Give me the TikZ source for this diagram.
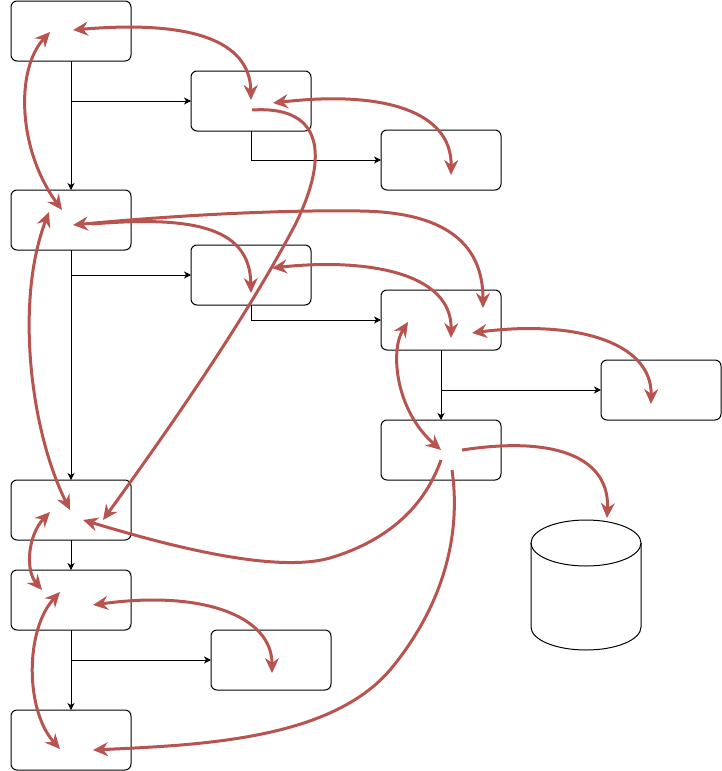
\documentclass[tikz,border=0pt]{standalone}
\usetikzlibrary{arrows.meta}
\definecolor{redline}{HTML}{B85450}
\begin{document}
\begin{tikzpicture}[x=1pt,y=-1pt,
  box/.style={draw, rounded corners=6pt, minimum width=120pt, minimum height=60pt, inner sep=0pt, outer sep=0pt, line width=1pt},
  blk/.style={line width=1pt, -{Stealth[length=7pt,width=7pt,inset=2pt]}},
  rone/.style={draw=redline, line width=3pt, -{Stealth[length=15pt,width=14pt,inset=5pt]}},
  rtwo/.style={draw=redline, line width=3pt, {Stealth[length=15pt,width=14pt,inset=5pt]}-{Stealth[length=15pt,width=14pt,inset=5pt]}},
  cylline/.style={line width=1pt}
]
\useasboundingbox (0,0) rectangle (722,771);
% boxes
\node[box] (b1) at (71,31) {};
\node[box] (b2) at (251,101) {};
\node[box] (b3) at (441,160) {};
\node[box] (b4) at (71,220) {};
\node[box] (b5) at (251,275) {};
\node[box] (b6) at (441,320) {};
\node[box] (b7) at (661,390) {};
\node[box] (b8) at (441,450) {};
\node[box] (b9) at (71,510) {};
\node[box] (b10) at (71,600) {};
\node[box] (b11) at (271,660) {};
\node[box] (b12) at (71,740) {};
% cylinder
\node[minimum width=110pt, minimum height=130pt, inner sep=0pt, outer sep=0pt] (cyl) at (586,585) {};
\draw[cylline] (531,543) -- (531,627) .. controls (531,639.7) and (555.6,650) .. (586,650) .. controls (616.4,650) and (641,639.7) .. (641,627) -- (641,543);
\draw[cylline] (586,543) ellipse [x radius=55, y radius=23];
% black connectors
\draw[blk] (b1.south) -- (b4.north);
\draw[blk] (b1.south |- b2.west) -- (b2.west);
\draw[blk] (b2.south) |- (b3.west);
\draw[blk] (b4.south) -- (b9.north);
\draw[blk] (b4.south |- b5.west) -- (b5.west);
\draw[blk] (b5.south) |- (b6.west);
\draw[blk] (b6.south) -- (b8.north);
\draw[blk] (b6.south |- b7.west) -- (b7.west);
\draw[blk] (b9.south) -- (b10.north);
\draw[blk] (b10.south) -- (b12.north);
\draw[blk] (b10.south |- b11.west) -- (b11.west);
% red curves
\draw[rtwo] ([shift={(2,-1)}]b1.center) .. controls (190,20) and (250,40) .. ([shift={(0,-1)}]b2.center);
\draw[rone] ([shift={(1,9)}]b2.center) .. controls (330,105) and (325,165) .. (295,225) .. controls (240,330) and (150,455) .. ([shift={(32,10)}]b9.center);
\draw[rtwo] ([shift={(22,2)}]b2.center) .. controls (385,90) and (452,112) .. ([shift={(10,15)}]b3.center);
\draw[rtwo] ([shift={(-21,1)}]b1.center) .. controls (15,70) and (18,150) .. ([shift={(-9,-10)}]b4.center);
\draw[rtwo] ([shift={(2,5)}]b4.center) .. controls (200,213) and (300,210) .. (360,211) .. controls (440,212) and (483,240) .. ([shift={(42,-12)}]b6.center);
\draw[rone] ([shift={(21,4)}]b4.center) .. controls (200,215) and (250,230) .. ([shift={(0,18)}]b5.center);
\draw[rtwo] ([shift={(21,-7)}]b5.center) .. controls (365,258) and (452,272) .. ([shift={(10,18)}]b6.center);
\draw[rtwo] ([shift={(31,13)}]b6.center) .. controls (570,320) and (652,340) .. ([shift={(-10,14)}]b7.center);
\draw[rtwo] ([shift={(-33,2)}]b6.center) .. controls (390,350) and (395,410) .. (b8.center);
\draw[rone] ([shift={(21,0)}]b8.center) .. controls (560,435) and (610,460) .. ([shift={(21,-2)}]cyl.north);
\draw[rone] ([shift={(0,10)}]b8.center) .. controls (425,505) and (390,540) .. (330,558) .. controls (270,575) and (150,540) .. ([shift={(12,10)}]b9.center);
\draw[rone] ([shift={(11,20)}]b8.center) .. controls (462,540) and (440,610) .. (390,670) .. controls (330,740) and (200,745) .. ([shift={(22,10)}]b12.center);
\draw[rtwo] ([shift={(-21,2)}]b9.center) .. controls (28,535) and (25,570) .. ([shift={(-29,-10)}]b10.center);
\draw[rtwo] ([shift={(22,5)}]b10.center) .. controls (200,590) and (272,615) .. ([shift={(1,13)}]b11.center);
\draw[rtwo] ([shift={(-11,-8)}]b10.center) .. controls (25,630) and (25,710) .. ([shift={(-11,9)}]b12.center);
\draw[rtwo] ([shift={(-22,-8)}]b4.center) .. controls (15,300) and (30,430) .. ([shift={(-1,0)}]b9.center);
\end{tikzpicture}
\end{document}
